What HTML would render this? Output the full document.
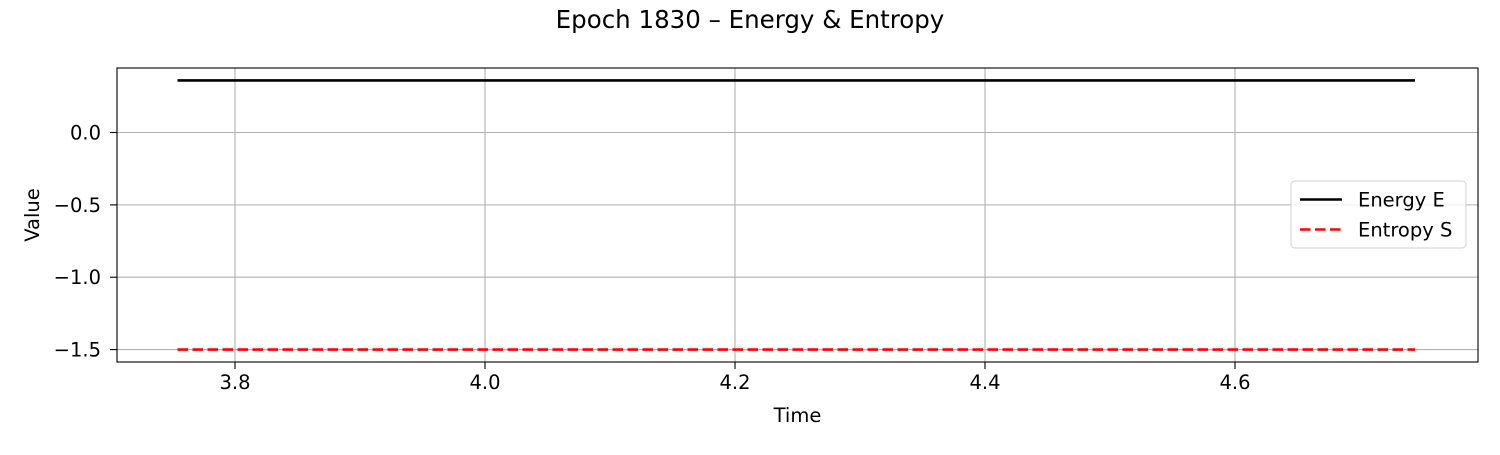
<!DOCTYPE html>
<html><head><meta charset="utf-8"><style>
html,body{margin:0;padding:0;background:#fff;}
svg text{font-family:"DejaVu Sans","Liberation Sans",sans-serif;}
</style></head><body>
<svg id="chart" width="1500" height="450" xmlns="http://www.w3.org/2000/svg"></svg>
<script>
const xTicks = [3.8, 4.0, 4.2, 4.4, 4.6];
const xTickLabels = ["3.8", "4.0", "4.2", "4.4", "4.6"];
const yTicks = [0.0, -0.5, -1.0, -1.5];
const yTickLabels = ["0.0", "\u22120.5", "\u22121.0", "\u22121.5"];
const timeValues = [3.754, 4.744];
const energyValues = [0.36, 0.36];
const entropyValues = [-1.5, -1.5];

const L=117,R=1478,T=68,B=362;
const xMin=3.7056,xMax=4.7944,yMin=-1.5857,yMax=0.4457;
const sx=v=>L+(v-xMin)/(xMax-xMin)*(R-L);
const sy=v=>B-(v-yMin)/(yMax-yMin)*(B-T);
const svg=document.getElementById('chart');
const NS='http://www.w3.org/2000/svg';
function mk(tag,attrs,parent){const e=document.createElementNS(NS,tag);for(const k in attrs)e.setAttribute(k,attrs[k]);(parent||svg).appendChild(e);return e;}
const FS='19.5';
const DASH='10.5,4.5';

let t=mk('text',{x:750,y:28,'text-anchor':'middle','font-size':'24.5'});
t.textContent='Epoch 1830 \u2013 Energy & Entropy';



xTicks.forEach((v,i)=>{
  const x=sx(v);
  const g=mk('line',{x1:x,x2:x,y1:T,y2:B,stroke:'#b0b0b0','stroke-width':1.1});
  
  
  const tk=mk('line',{x1:x,x2:x,y1:B,y2:B+7,stroke:'#000','stroke-width':1.1});
  
  
  const lb=mk('text',{x:x,y:B+27,'text-anchor':'middle','font-size':FS});
  lb.textContent=xTickLabels[i];
  
  
});
yTicks.forEach((v,i)=>{
  const y=sy(v);
  const g=mk('line',{x1:L,x2:R,y1:y,y2:y,stroke:'#b0b0b0','stroke-width':1.1});
  
  
  const tk=mk('line',{x1:L-7,x2:L,y1:y,y2:y,stroke:'#000','stroke-width':1.1});
  
  
  const lb=mk('text',{x:L-16,y:y+7,'text-anchor':'end','font-size':FS});
  lb.textContent=yTickLabels[i];
  
  
});

const ePts=timeValues.map((v,i)=>sx(v)+','+sy(energyValues[i])).join(' ');
const eLine=mk('polyline',{points:ePts,fill:'none',stroke:'#000','stroke-width':2.6});


const sPts=timeValues.map((v,i)=>sx(v)+','+sy(entropyValues[i])).join(' ');
const sLine=mk('polyline',{points:sPts,fill:'none',stroke:'#ff0000','stroke-width':2.6,'stroke-dasharray':DASH});



const frame=mk('rect',{x:L,y:T,width:R-L,height:B-T,fill:'none',stroke:'#000','stroke-width':1.1});



const xl=mk('text',{x:(L+R)/2,y:422,'text-anchor':'middle','font-size':FS});
xl.textContent='Time';


const yl=mk('text',{x:0,y:0,'text-anchor':'middle','font-size':FS,transform:'translate(39,'+((T+B)/2)+') rotate(-90)'});
yl.textContent='Value';



const lg=mk('g',{});


mk('rect',{x:1291,y:181,width:175,height:67,rx:4,fill:'#fff','fill-opacity':0.8,stroke:'#d0d0d0','stroke-width':1},lg);
const le1=mk('line',{x1:1300,x2:1342,y1:199.5,y2:199.5,stroke:'#000','stroke-width':2.6},lg);


const lt1=mk('text',{x:1358,y:206.5,'font-size':FS},lg);
lt1.textContent='Energy E';


const le2=mk('line',{x1:1300,x2:1342,y1:229.5,y2:229.5,stroke:'#ff0000','stroke-width':2.6,'stroke-dasharray':DASH},lg);


const lt2=mk('text',{x:1358,y:236.5,'font-size':FS},lg);
lt2.textContent='Entropy S';


</script>
</body></html>
